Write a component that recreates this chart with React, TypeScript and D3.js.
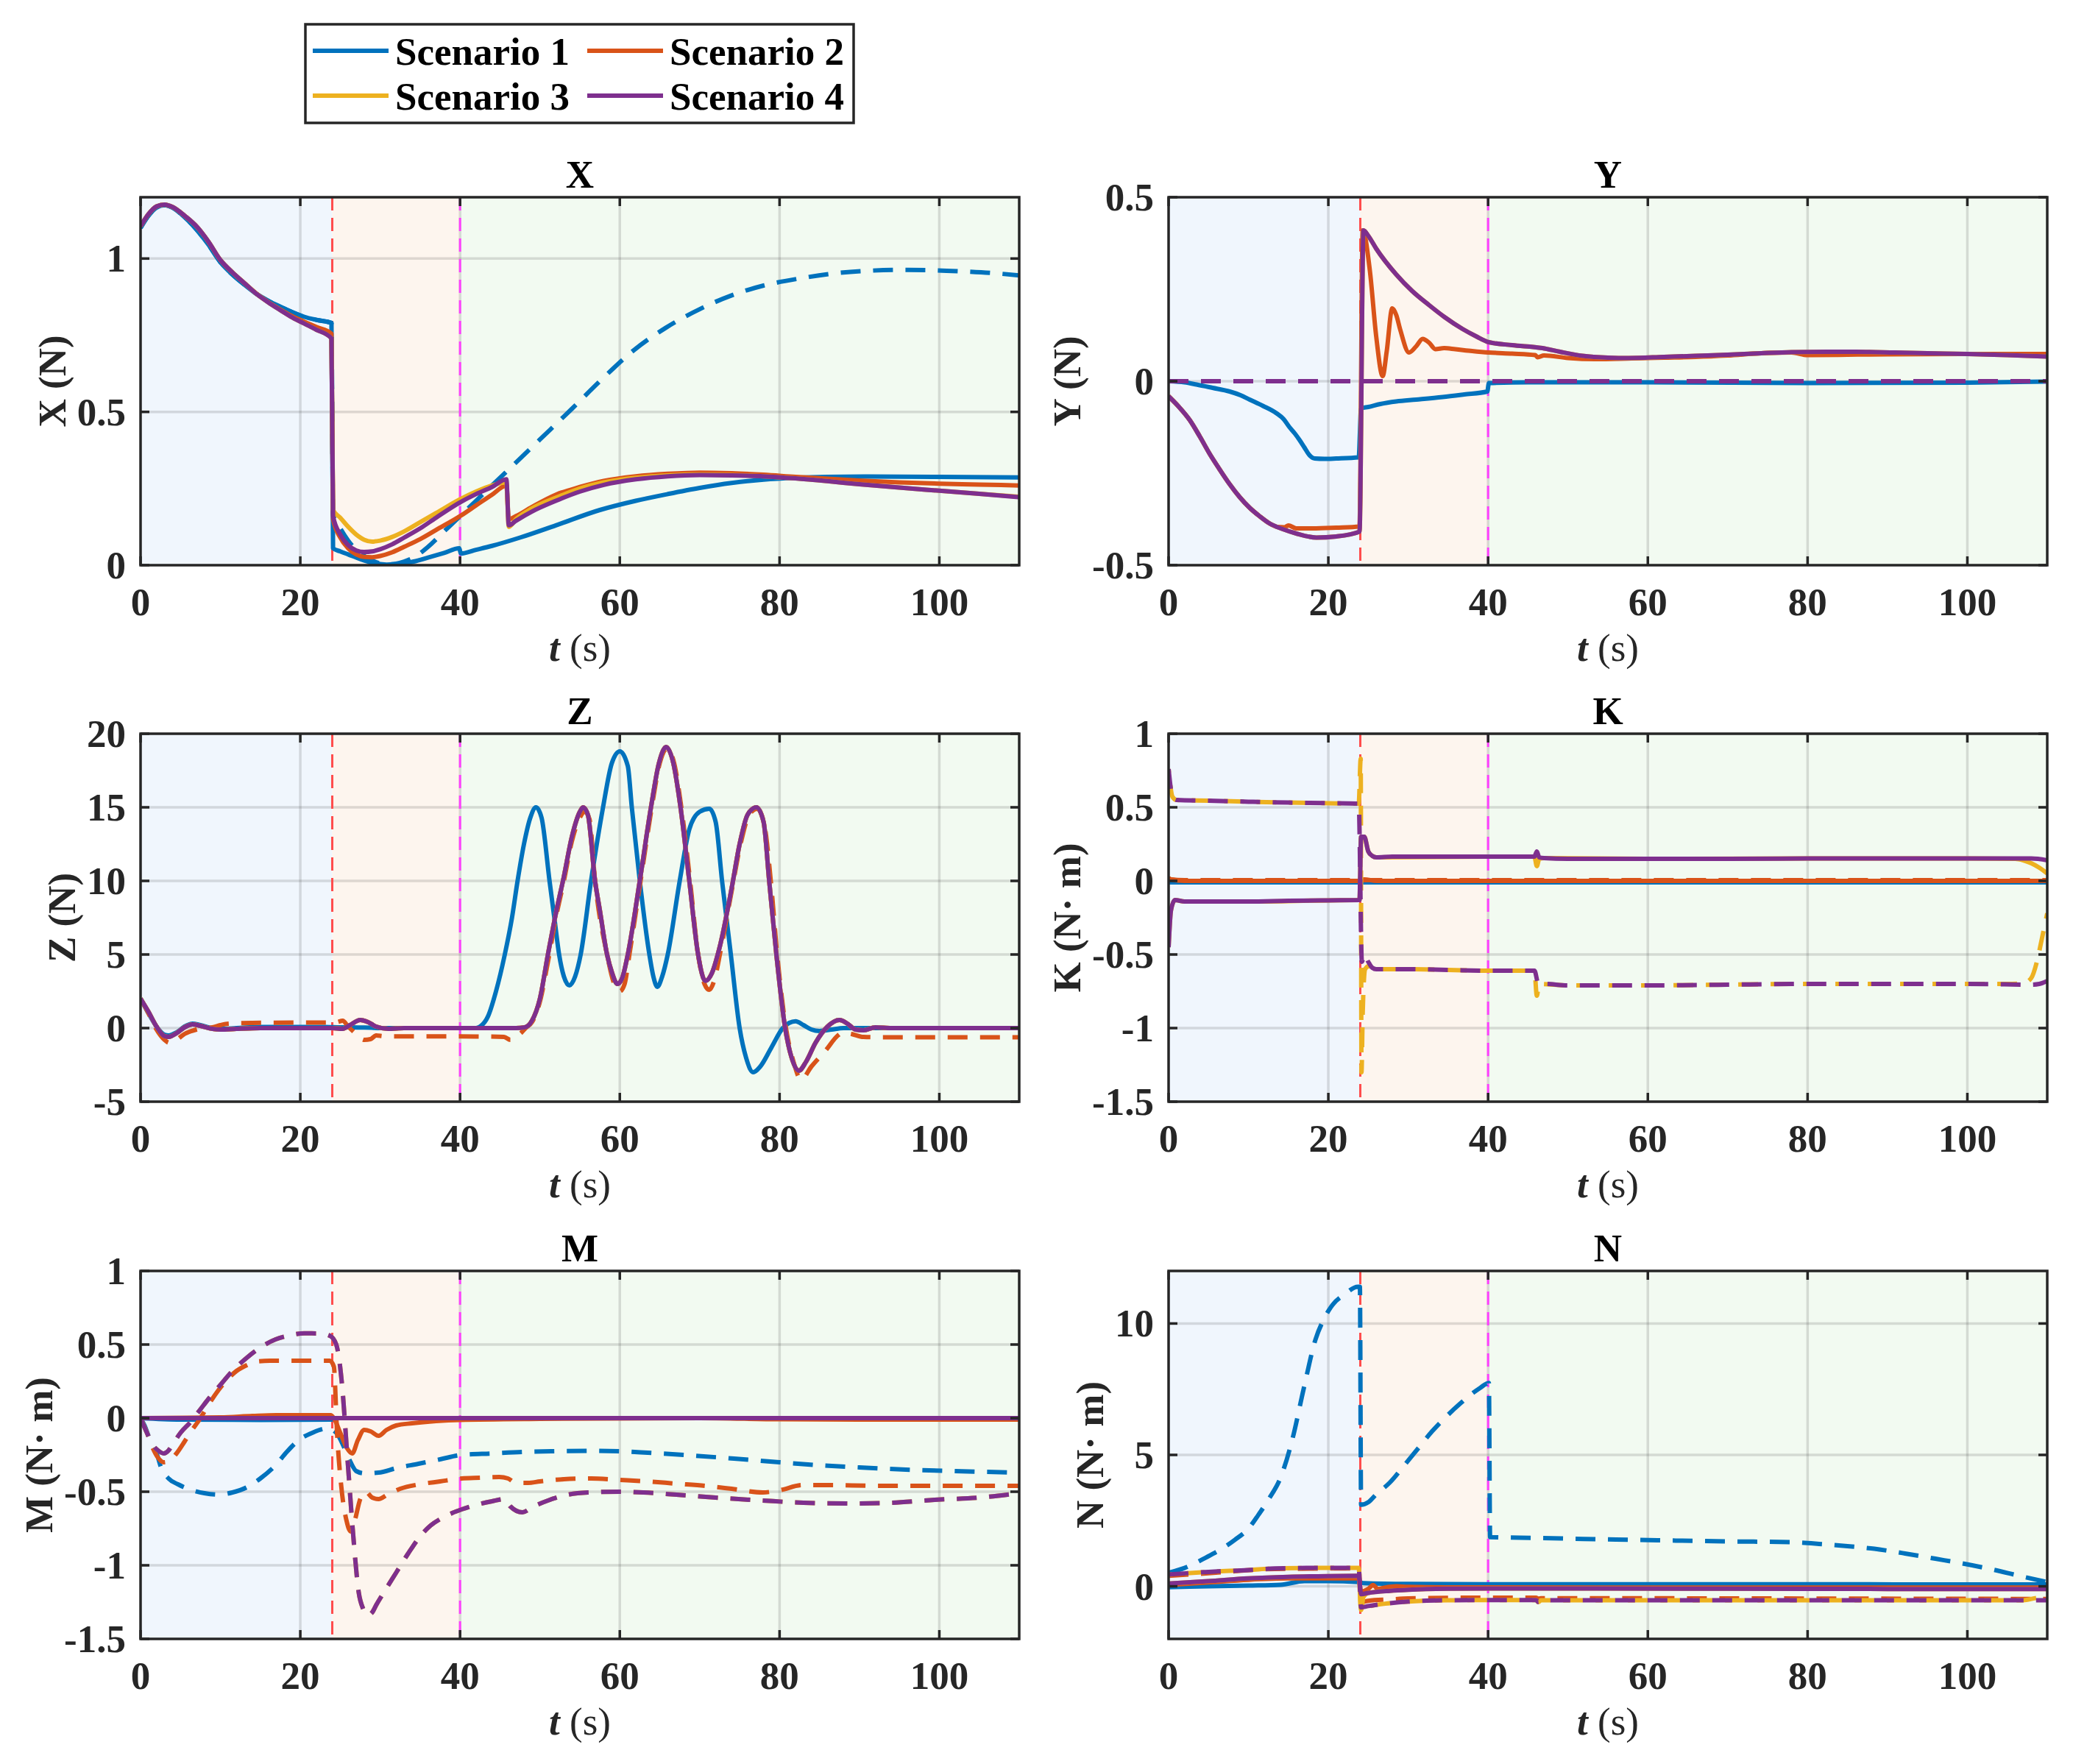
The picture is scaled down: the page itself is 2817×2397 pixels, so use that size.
import React from "react";
import * as d3 from "d3";

type Pt = [number, number];

// ---------------- data ----------------
const T_TICKS = [0, 20, 40, 60, 80, 100];
const T_DOMAIN: [number, number] = [0, 110];
const SCENARIOS = ["Scenario 1", "Scenario 2", "Scenario 3", "Scenario 4"];
const SCEN_COLORS = ["#0072BD", "#D95319", "#EDB120", "#7E2F8E"];
const PHASE_EDGES = [0, 24, 40, 110];
const PHASE_FILLS = ["#F0F6FD", "#FDF5EE", "#F2FAF1"];
const EVENT_TIMES = [24, 40];
const EVENT_COLORS = ["#FF4D4D", "#FF40FF"];

// X panel
const xPre1: Pt[] = [[0,1.1],[1,1.14],[2,1.166],[3,1.174],[4,1.166],[5.5,1.135],[7,1.095],[8.5,1.045],[10,0.988],[11.5,0.948],[13,0.915],[14.5,0.885],[16,0.862],[17.5,0.843],[19,0.825],[20.5,0.81],[22,0.8],[23.9,0.79]];
const xPre2: Pt[] = [[0,1.105],[1,1.145],[2,1.17],[3,1.176],[4,1.168],[5.5,1.14],[7,1.105],[8.5,1.055],[10,0.995],[11.5,0.955],[13,0.92],[14.5,0.886],[16,0.858],[17.5,0.834],[19,0.812],[20.5,0.794],[22,0.777],[23.9,0.755]];
const xPre4: Pt[] = [[0,1.105],[1,1.145],[2,1.17],[3,1.176],[4,1.168],[5.5,1.14],[7,1.105],[8.5,1.055],[10,0.995],[11.5,0.955],[13,0.92],[14.5,0.885],[16,0.857],[17.5,0.832],[19,0.808],[20.5,0.788],[22,0.768],[23.9,0.74]];
const xS1: Pt[] = [...xPre1,[24.1,0.055],[25,0.045],[26,0.035],[27.5,0.02],[29,0.008],[30.8,0.002],[32.5,0.004],[34.2,0.012],[36,0.025],[38,0.04],[39.9,0.055],[40.1,0.038],[42,0.05],[44,0.063],[47.5,0.09],[52,0.13],[57.5,0.18],[62,0.21],[66,0.232],[70,0.252],[74,0.268],[78,0.279],[82,0.285],[86,0.288],[91,0.289],[100,0.288],[110,0.286]];
const xD1: Pt[] = [...xPre1,[24.1,0.165],[25,0.12],[26,0.08],[27,0.05],[28,0.03],[29,0.015],[30,0.006],[31,0.003],[32,0.005],[33,0.012],[34.2,0.025],[36,0.06],[38,0.11],[40,0.16],[43,0.235],[46,0.31],[50,0.41],[54,0.51],[57.5,0.6],[61.7,0.7],[65.8,0.775],[70,0.835],[74,0.88],[78,0.912],[82.5,0.935],[87,0.952],[91,0.96],[95,0.963],[99,0.962],[103,0.958],[107,0.952],[110,0.945]];
const xS2: Pt[] = [...xPre2,[24.1,0.15],[25,0.09],[26,0.055],[27,0.035],[28,0.027],[29,0.026],[30,0.03],[31.5,0.042],[33,0.06],[35,0.085],[37,0.115],[40,0.16],[42,0.195],[44,0.23],[45.8,0.26],[46.1,0.15],[47,0.16],[49,0.19],[52,0.23],[55,0.255],[58,0.275],[62,0.29],[66,0.298],[70,0.302],[74,0.3],[78,0.295],[82,0.288],[86,0.282],[90,0.276],[95,0.27],[100,0.266],[105,0.263],[110,0.26]];
const xS3: Pt[] = [...xPre4,[24.1,0.18],[25,0.155],[26,0.125],[27,0.1],[28,0.083],[29,0.077],[30,0.08],[31.5,0.092],[33,0.11],[35,0.14],[37,0.17],[40,0.215],[42,0.24],[44,0.26],[45.8,0.27],[46.1,0.125],[47,0.15],[49,0.185],[52,0.22],[55,0.25],[58,0.27],[62,0.285],[66,0.293],[70,0.296],[74,0.294],[78,0.29],[82,0.283],[86,0.274],[90,0.264],[95,0.253],[100,0.243],[105,0.233],[110,0.223]];
const xS4: Pt[] = [...xPre4,[24.1,0.16],[25,0.1],[26,0.065],[27,0.048],[28,0.043],[29,0.045],[30,0.052],[31.5,0.068],[33,0.09],[35,0.12],[37,0.155],[40,0.205],[42,0.232],[44,0.255],[45.8,0.28],[46.1,0.13],[47,0.145],[49,0.175],[52,0.21],[55,0.24],[58,0.262],[62,0.28],[66,0.29],[70,0.294],[74,0.293],[78,0.29],[82,0.283],[86,0.274],[90,0.264],[95,0.253],[100,0.243],[105,0.233],[110,0.222]];

// Y panel
const yS1: Pt[] = [[0,0],[2,-0.003],[3.5,-0.009],[5.5,-0.018],[7.65,-0.028],[9,-0.038],[10.15,-0.05],[11.8,-0.067],[13.5,-0.087],[14.4,-0.103],[15.1,-0.124],[15.8,-0.142],[16.4,-0.16],[17,-0.18],[17.6,-0.2],[18.3,-0.21],[19.5,-0.211],[21,-0.21],[23.8,-0.207],[24.1,-0.074],[25,-0.07],[26.5,-0.062],[28.5,-0.055],[31,-0.05],[34.3,-0.043],[37,-0.036],[39.9,-0.028],[40.1,-0.005],[45,-0.003],[60,-0.003],[80,-0.005],[100,-0.004],[110,-0.001]];
const yPre4: Pt[] = [[0,-0.041],[1.3,-0.07],[2.66,-0.106],[3.9,-0.15],[5.16,-0.198],[6.4,-0.24],[7.65,-0.28],[8.9,-0.315],[10.15,-0.344],[11.4,-0.367],[12.6,-0.386]];
const yS2: Pt[] = [...yPre4,[13.6,-0.396],[14.5,-0.397],[15,-0.392],[16,-0.4],[18,-0.4],[21,-0.398],[23.9,-0.395],[24.3,0.41],[25.2,0.3],[26,0.12],[26.8,0.014],[27.3,0.08],[28,0.198],[28.5,0.18],[29,0.14],[30.1,0.078],[31,0.095],[31.8,0.115],[32.6,0.105],[33.4,0.087],[34.5,0.09],[35.9,0.087],[38,0.082],[40.1,0.078],[43,0.075],[45.9,0.071],[46.2,0.065],[47,0.07],[50,0.063],[53.4,0.06],[58,0.062],[62,0.064],[66,0.066],[70,0.07],[74.2,0.076],[78,0.078],[80,0.071],[85,0.072],[90,0.073],[100,0.074],[110,0.074]];
const yS4: Pt[] = [...yPre4,[14.3,-0.402],[16,-0.414],[18.5,-0.425],[21,-0.422],[23.9,-0.409],[24.4,0.41],[25,0.395],[26,0.36],[28.5,0.29],[30.5,0.245],[32.6,0.207],[34.5,0.175],[36.8,0.142],[38.5,0.122],[40.1,0.106],[43,0.098],[46.8,0.09],[49,0.08],[51.8,0.069],[55,0.064],[57.6,0.063],[62,0.066],[66,0.069],[70,0.072],[74.2,0.076],[78,0.079],[82.5,0.08],[86,0.08],[90.9,0.078],[95,0.076],[100,0.074],[105,0.071],[110,0.067]];
const yS3: Pt[] = yS4;
const yDashZero: Pt[] = [[0,0],[110,0]];

// Z panel
const zS1: Pt[] = [[0,2],[1,1],[2,0.1],[3,-0.45],[3.5,-0.5],[4.5,-0.3],[5.5,0.1],[6.5,0.3],[7.5,0.2],[9,0],[10,-0.05],[12,0],[15,0.08],[20,0.08],[23,0.08],[25,0.05],[28,0.04],[30,0],[42,0],[42.5,0.1],[43.5,0.8],[44.5,2.5],[45.6,5],[46.5,7.5],[47.2,10],[48,12.5],[48.8,14.3],[49.5,15],[50.2,14.3],[51.2,10],[51.8,7.5],[52.4,5],[53,3.5],[53.7,2.9],[54.4,3.5],[55.1,5],[56.4,10],[57.9,15],[59,18],[60,18.8],[61,17.8],[61.5,15],[62.5,10],[63.7,5],[64.2,3.5],[64.7,2.8],[65.3,3.5],[66,5],[67.5,10],[68.7,13.5],[70,14.7],[71.2,14.9],[72,14],[72.8,10],[73.9,5],[75,0],[75.8,-2],[76.7,-3],[77.6,-2.6],[79,-1.3],[80.4,0],[81.2,0.35],[82,0.46],[83,0.2],[84,-0.1],[85,-0.2],[86.5,-0.1],[88,0],[110,0]];
const zS4: Pt[] = [[0,2],[1,1.1],[2,0.1],[3,-0.55],[3.5,-0.6],[4.5,-0.35],[5.5,0.05],[6.5,0.25],[7.5,0.15],[9,-0.05],[10,-0.1],[12,-0.05],[15,0],[24,0],[25.3,-0.05],[26.2,0.2],[27.5,0.55],[28.5,0.4],[29.5,0.1],[31,-0.05],[33,0],[47,0],[48.1,0.05],[49,0.5],[50,2],[51,5],[52,7.8],[53,10.3],[54,13],[55,14.7],[55.4,15],[56,14.5],[56.9,10],[57.5,8],[58.4,5],[59,3.8],[59.7,3],[60.3,3.4],[61,5],[62.5,10],[63.9,15],[64.9,18],[65.8,19.1],[66.7,18],[67.6,15],[68.7,10],[69.8,5],[70.7,3.2],[71.5,3.7],[72.5,5.5],[74,9.5],[75,12.5],[76,14.5],[77.1,15],[78,14],[78.7,10],[79.6,5],[80.7,0],[81.5,-2],[82.4,-2.9],[83.3,-2.3],[84.5,-1],[86,0.1],[87.5,0.55],[88.5,0.3],[89.5,-0.1],[90.5,-0.15],[92,0.05],[94,0],[110,0]];
const zS2: Pt[] = zS4;
const zS3: Pt[] = zS4;
const zD2: Pt[] = [[0,2],[1,1],[2,-0.1],[3,-0.8],[3.6,-1],[4.5,-0.8],[5.5,-0.4],[7,-0.1],[8,0],[9,0.05],[10,0.2],[11,0.3],[14,0.35],[20,0.37],[23.5,0.37],[24.5,0.4],[25.3,0.5],[26,0.1],[27,-0.4],[28,-0.8],[28.8,-0.75],[29.5,-0.5],[30.5,-0.55],[33,-0.56],[38,-0.56],[42,-0.57],[45.5,-0.6],[46.3,-0.8],[46.8,-0.6],[47.5,-0.4],[48.2,0],[49,0.4],[50,1.8],[51,4.5],[52,7.5],[53,10],[54,12.7],[55,14.3],[55.6,14.7],[56.2,14.2],[56.9,10],[58.4,5],[59.3,3],[60,2.5],[60.6,3],[61.2,5],[62.6,10],[64,15],[65,18],[65.9,19],[66.8,18],[67.7,15],[68.8,10],[69.8,5],[70.6,3],[71.2,2.6],[71.8,3.2],[72.6,5.2],[74,9.3],[75.2,12.7],[76.2,14.5],[77.2,14.9],[78.1,13.8],[78.9,10],[79.7,5],[80.8,0],[81.7,-2.2],[82.7,-3.5],[84,-2.6],[85.8,-1.5],[87.3,-0.5],[87.9,-0.3],[89,-0.4],[90.5,-0.6],[92,-0.62],[110,-0.62]];

// K panel
const kS1: Pt[] = [[0,-0.01],[110,-0.01]];
const kS2: Pt[] = [[0,0.02],[0.3,0.01],[2,0],[24,0],[24.5,0.01],[26,0],[110,0]];
const kD2: Pt[] = [[0,0.02],[0.3,0.01],[2,0.005],[24,0.005],[110,0.005]];
const kS4: Pt[] = [[0,-0.45],[0.3,-0.2],[0.8,-0.13],[2,-0.14],[5,-0.14],[10,-0.14],[15,-0.135],[20,-0.132],[23.9,-0.13],[24.1,0.3],[24.5,0.3],[25,0.2],[25.5,0.17],[26,0.16],[28,0.165],[35,0.165],[40,0.165],[45.8,0.165],[46.1,0.2],[46.4,0.16],[47,0.155],[50,0.15],[60,0.15],[70,0.15],[80,0.152],[90,0.153],[100,0.152],[108,0.152],[110,0.14]];
const kS3: Pt[] = [[0,-0.45],[0.3,-0.2],[0.8,-0.13],[2,-0.14],[10,-0.14],[20,-0.132],[23.9,-0.13],[24.1,0.3],[24.5,0.3],[25,0.2],[25.5,0.17],[26,0.16],[40,0.165],[45.8,0.165],[46.1,0.1],[46.4,0.15],[47,0.155],[60,0.15],[80,0.152],[100,0.152],[106,0.15],[107,0.14],[108,0.12],[109,0.09],[110,0.05]];
const kD4: Pt[] = [[0,0.76],[0.5,0.57],[1,0.55],[5,0.545],[10,0.538],[15,0.532],[20,0.528],[23.8,0.525],[24.2,-0.55],[24.5,-0.5],[25,-0.55],[25.5,-0.59],[26,-0.6],[30,-0.6],[35,-0.605],[40,-0.61],[45.8,-0.61],[46.3,-0.7],[47,-0.7],[50,-0.71],[60,-0.71],[70,-0.705],[80,-0.7],[90,-0.7],[100,-0.7],[108,-0.705],[109,-0.7],[110,-0.68]];
const kD3: Pt[] = [[0,0.76],[0.5,0.57],[1,0.55],[5,0.545],[10,0.538],[15,0.532],[20,0.528],[23.8,0.525],[24.05,0.83],[24.15,-1.3],[24.3,-0.9],[24.6,-0.6],[25,-0.58],[26,-0.6],[30,-0.6],[35,-0.605],[40,-0.61],[45.8,-0.61],[46.1,-0.78],[46.4,-0.7],[50,-0.71],[60,-0.71],[70,-0.705],[80,-0.7],[90,-0.7],[100,-0.7],[105,-0.7],[107,-0.695],[108,-0.66],[108.7,-0.55],[109.3,-0.4],[110,-0.22]];

// M panel
const mS1: Pt[] = [[0,0],[5,-0.01],[15,-0.012],[23.9,-0.01],[24.5,0],[110,0]];
const mS2: Pt[] = [[0,0],[10,0.005],[14,0.015],[17,0.02],[23.8,0.02],[24.2,0],[25,-0.1],[25.8,-0.2],[26.5,-0.24],[27.2,-0.15],[28,-0.08],[28.8,-0.09],[29.8,-0.12],[30.8,-0.08],[32,-0.05],[34,-0.035],[37,-0.02],[40,-0.012],[50,-0.005],[70,0],[80,-0.008],[90,-0.01],[110,-0.01]];
const mS4: Pt[] = [[0,0],[110,0]];
const mD1: Pt[] = [[0,0],[0.5,-0.05],[1.2,-0.15],[1.9,-0.22],[2.6,-0.34],[3.5,-0.41],[4.7,-0.45],[6.5,-0.49],[8,-0.51],[9.75,-0.52],[11.5,-0.505],[13.3,-0.47],[15,-0.41],[16.9,-0.32],[18.3,-0.23],[19.8,-0.15],[21.5,-0.1],[23.4,-0.07],[24.5,-0.1],[25.5,-0.2],[26.3,-0.3],[27,-0.36],[28,-0.375],[29.8,-0.37],[32,-0.34],[34.8,-0.31],[37.5,-0.28],[40.2,-0.25],[44,-0.24],[47.8,-0.23],[52,-0.225],[56.4,-0.222],[60,-0.225],[63.5,-0.235],[68,-0.25],[74.3,-0.275],[80,-0.3],[85,-0.32],[90,-0.335],[95.8,-0.35],[102,-0.36],[110,-0.37]];
const mD2: Pt[] = [[0,0],[0.8,-0.1],[1.5,-0.2],[2.2,-0.27],[2.9,-0.3],[3.6,-0.29],[4.5,-0.24],[5.5,-0.16],[6.2,-0.1],[7.5,0],[8.5,0.09],[9.75,0.19],[11,0.27],[12,0.32],[13.3,0.36],[14.5,0.385],[16.2,0.39],[20,0.39],[23.7,0.39],[24.2,0.35],[24.6,-0.1],[25.2,-0.5],[25.8,-0.7],[26.3,-0.77],[26.8,-0.7],[27.5,-0.55],[28.2,-0.5],[29,-0.54],[29.8,-0.55],[30.9,-0.52],[32.5,-0.48],[34.9,-0.45],[37.5,-0.43],[40.2,-0.41],[42.5,-0.405],[44.9,-0.4],[46,-0.41],[47,-0.44],[48.5,-0.44],[50,-0.43],[53,-0.415],[56.4,-0.41],[60,-0.42],[63.5,-0.43],[67,-0.445],[70.7,-0.46],[74,-0.48],[77.9,-0.505],[80,-0.49],[82.9,-0.455],[86,-0.455],[92.2,-0.46],[100,-0.46],[110,-0.46]];
const mD4: Pt[] = [[0,0],[0.8,-0.1],[1.5,-0.18],[2.2,-0.22],[2.9,-0.24],[3.5,-0.22],[4,-0.18],[5,-0.1],[6.2,-0.03],[7.5,0.06],[8.5,0.13],[9.75,0.21],[11.5,0.32],[13.3,0.41],[15,0.48],[16.9,0.535],[18.5,0.56],[20.5,0.576],[22.5,0.575],[23.7,0.56],[24.5,0.5],[25.2,0.24],[25.9,-0.27],[26.6,-0.78],[27.3,-1.18],[27.9,-1.3],[28.4,-1.34],[29,-1.32],[29.5,-1.27],[30.5,-1.18],[32,-1.05],[33.5,-0.92],[34.9,-0.81],[36.3,-0.73],[37.7,-0.68],[39,-0.645],[40.2,-0.62],[42,-0.59],[44,-0.565],[45.6,-0.55],[46.3,-0.6],[47.8,-0.64],[49.2,-0.6],[51,-0.56],[53.5,-0.52],[56,-0.505],[60,-0.5],[63,-0.505],[67.1,-0.52],[72,-0.54],[77.9,-0.56],[83,-0.575],[88.6,-0.58],[94,-0.575],[99.4,-0.555],[105,-0.54],[110,-0.51]];
const mD3: Pt[] = mD4;

// N panel
const nS1: Pt[] = [[0,-0.03],[5,0],[10,0.03],[14,0.06],[17,0.2],[20,0.2],[23.8,0.16],[24.5,0.12],[30,0.09],[40,0.08],[60,0.08],[110,0.07]];
const nS2: Pt[] = [[0,0.05],[5,0.15],[10,0.25],[15,0.3],[20,0.3],[23.8,0.3],[24.1,-0.2],[25,-0.1],[25.6,0.05],[26.2,-0.1],[27,-0.05],[28.5,0],[30,-0.02],[35,-0.04],[40,-0.04],[60,-0.05],[110,-0.05]];
const nS4: Pt[] = [[0,0.11],[5,0.2],[10,0.3],[15,0.36],[20,0.39],[23.8,0.4],[24.1,-0.3],[25,-0.25],[27.7,-0.17],[30,-0.13],[34.9,-0.09],[40,-0.08],[50,-0.08],[70,-0.09],[90,-0.1],[110,-0.1]];
const nS3: Pt[] = [[0,0.11],[5,0.2],[10,0.3],[15,0.36],[20,0.39],[23.8,0.4],[24.1,-0.9],[24.4,-0.4],[25,-0.25],[27.7,-0.17],[30,-0.13],[34.9,-0.09],[40,-0.08],[50,-0.08],[70,-0.09],[90,-0.1],[110,-0.1]];
const nD1: Pt[] = [[0,0.52],[2,0.7],[4.7,1.1],[6.5,1.4],[8.3,1.77],[10,2.2],[11.2,2.7],[12.5,3.3],[14.1,4.2],[15.5,5.6],[16.9,7.5],[18.4,9.4],[19.5,10.2],[20.5,10.7],[22,11.1],[23.7,11.4],[23.95,11.4],[24.1,3.1],[25,3.2],[26,3.5],[27.7,3.95],[29.5,4.6],[31.3,5.27],[33,5.9],[34.9,6.5],[36.5,6.95],[37.7,7.26],[39,7.55],[40.1,7.74],[40.25,1.87],[44,1.85],[49.2,1.82],[56,1.78],[63.5,1.74],[70,1.71],[77.9,1.68],[82,1.6],[85,1.53],[89,1.4],[92.2,1.25],[96,1.05],[99.4,0.87],[103,0.65],[106.5,0.4],[110,0.16]];
const nD2: Pt[] = [[0,0.4],[5,0.5],[13.3,0.66],[23.8,0.68],[24.1,-0.6],[25,-0.55],[27.7,-0.5],[30,-0.46],[34.9,-0.44],[40,-0.43],[46,-0.43],[46.3,-0.47],[46.6,-0.45],[70,-0.46],[110,-0.48]];
const nD4: Pt[] = [[0,0.45],[5,0.55],[10,0.62],[13.3,0.68],[18,0.7],[23.8,0.7],[24.1,-0.8],[25,-0.75],[27.7,-0.64],[30,-0.58],[34.9,-0.53],[40,-0.52],[46,-0.52],[46.3,-0.6],[46.6,-0.53],[60,-0.53],[110,-0.53]];
const nD3: Pt[] = [[0,0.45],[5,0.55],[10,0.62],[13.3,0.68],[18,0.7],[23.8,0.7],[24.1,-0.9],[25,-0.78],[27.7,-0.64],[30,-0.58],[34.9,-0.53],[40,-0.52],[46,-0.52],[46.3,-0.6],[46.6,-0.53],[60,-0.53],[107,-0.53],[108.5,-0.45],[110,-0.4]];

// ---------------- panels ----------------
type Panel = {
  title: string;
  yLabel: string;
  yDomain: [number, number];
  yTicks: number[];
  solid: (Pt[] | null)[];
  dashed: (Pt[] | null)[];
  yellowDashShift: number;
};

const PANELS: Panel[] = [
  { title: "X", yLabel: "X (N)", yDomain: [0, 1.2], yTicks: [0, 0.5, 1], solid: [xS1, xS2, xS3, xS4], dashed: [xD1, null, null, null], yellowDashShift: 0 },
  { title: "Y", yLabel: "Y (N)", yDomain: [-0.5, 0.5], yTicks: [-0.5, 0, 0.5], solid: [yS1, yS2, yS3, yS4], dashed: [yDashZero, yDashZero, yDashZero, yDashZero], yellowDashShift: 0 },
  { title: "Z", yLabel: "Z (N)", yDomain: [-5, 20], yTicks: [-5, 0, 5, 10, 15, 20], solid: [zS1, zS2, zS3, zS4], dashed: [null, zD2, null, null], yellowDashShift: 0 },
  { title: "K", yLabel: "K (N\u00b7 m)", yDomain: [-1.5, 1], yTicks: [-1.5, -1, -0.5, 0, 0.5, 1], solid: [kS1, kS2, kS3, kS4], dashed: [null, kD2, kD3, kD4], yellowDashShift: 22 },
  { title: "M", yLabel: "M (N\u00b7 m)", yDomain: [-1.5, 1], yTicks: [-1.5, -1, -0.5, 0, 0.5, 1], solid: [mS1, mS2, mS4, mS4], dashed: [mD1, mD2, mD3, mD4], yellowDashShift: 0 },
  { title: "N", yLabel: "N (N\u00b7 m)", yDomain: [-2, 12], yTicks: [0, 5, 10], solid: [nS1, nS2, nS3, nS4], dashed: [nD1, nD2, nD3, nD4], yellowDashShift: 22 },
];

// ---------------- layout ----------------
const W = 2817;
const H = 2397;
const COL_LEFT = [191, 1588];
const ROW_TOP = [268, 997, 1727];
const PW = 1194;
const PH = 500;
const FONT = "'Liberation Serif', 'Times New Roman', serif";
const FS = 53;
const AX = "#262626";
const LW = 6;

const charW: Record<string, number> = { "-": 0.333, ".": 0.25 };
const labelWidth = (s: string) => s.split("").reduce((a, c) => a + (charW[c] ?? 0.5), 0) * FS;

function PanelView({ p, idx }: { p: Panel; idx: number }) {
  const left = COL_LEFT[idx % 2];
  const top = ROW_TOP[Math.floor(idx / 2)];
  const x = d3.scaleLinear().domain(T_DOMAIN).range([left, left + PW]);
  const y = d3.scaleLinear().domain(p.yDomain).range([top + PH, top]);
  const line = d3
    .line<Pt>()
    .x((d) => x(d[0]))
    .y((d) => y(d[1]))
    .curve(d3.curveMonotoneX);
  const clipId = `clip${idx}`;
  const maxTickW = Math.max(...p.yTicks.map((t) => labelWidth(String(t))));
  const yLabelX = left - 20 - maxTickW - 16;
  const cx = left + PW / 2;
  const tick = 12;

  const layers: React.ReactNode[] = [];
  for (let s = 0; s < 4; s++) {
    const sd = p.solid[s];
    if (sd) {
      layers.push(
        <path key={`s${s}`} d={line(sd) ?? ""} fill="none" stroke={SCEN_COLORS[s]} strokeWidth={LW} strokeLinejoin="round" />
      );
    }
    const dd = p.dashed[s];
    if (dd) {
      layers.push(
        <path
          key={`d${s}`}
          d={line(dd) ?? ""}
          fill="none"
          stroke={SCEN_COLORS[s]}
          strokeWidth={LW}
          strokeDasharray="27 17"
          strokeDashoffset={s === 2 ? p.yellowDashShift : 0}
        />
      );
    }
  }

  return (
    <g>
      <defs>
        <clipPath id={clipId}>
          <rect x={left} y={top} width={PW} height={PH} />
        </clipPath>
      </defs>
      {PHASE_FILLS.map((f, i) => (
        <rect key={i} x={x(PHASE_EDGES[i])} y={top} width={x(PHASE_EDGES[i + 1]) - x(PHASE_EDGES[i])} height={PH} fill={f} />
      ))}
      {T_TICKS.filter((t) => t > 0).map((t) => (
        <line key={`gx${t}`} x1={x(t)} x2={x(t)} y1={top} y2={top + PH} stroke={AX} strokeOpacity={0.15} strokeWidth={3.5} />
      ))}
      {p.yTicks.filter((t) => t > p.yDomain[0] && t < p.yDomain[1]).map((t) => (
        <line key={`gy${t}`} x1={left} x2={left + PW} y1={y(t)} y2={y(t)} stroke={AX} strokeOpacity={0.15} strokeWidth={3.5} />
      ))}
      {EVENT_TIMES.map((t, i) => (
        <line key={`ev${t}`} x1={x(t)} x2={x(t)} y1={top} y2={top + PH} stroke={EVENT_COLORS[i]} strokeWidth={3} strokeDasharray="18 10" />
      ))}
      <g clipPath={`url(#${clipId})`}>{layers}</g>
      {T_TICKS.map((t) => (
        <g key={`tx${t}`}>
          <line x1={x(t)} x2={x(t)} y1={top + PH} y2={top + PH - tick} stroke={AX} strokeWidth={3.5} />
          <line x1={x(t)} x2={x(t)} y1={top} y2={top + tick} stroke={AX} strokeWidth={3.5} />
          <text x={x(t)} y={top + PH + 68} textAnchor="middle" fontFamily={FONT} fontWeight="bold" fontSize={FS} fill={AX}>
            {t}
          </text>
        </g>
      ))}
      {p.yTicks.map((t) => (
        <g key={`ty${t}`}>
          <line x1={left} x2={left + tick} y1={y(t)} y2={y(t)} stroke={AX} strokeWidth={3.5} />
          <line x1={left + PW} x2={left + PW - tick} y1={y(t)} y2={y(t)} stroke={AX} strokeWidth={3.5} />
          <text x={left - 20} y={y(t) + 18} textAnchor="end" fontFamily={FONT} fontWeight="bold" fontSize={FS} fill={AX}>
            {String(t)}
          </text>
        </g>
      ))}
      <rect x={left} y={top} width={PW} height={PH} fill="none" stroke={AX} strokeWidth={3.5} />
      <text x={cx} y={top - 13} textAnchor="middle" fontFamily={FONT} fontWeight="bold" fontSize={FS} fill="#000">
        {p.title}
      </text>
      <text x={cx} y={top + PH + 130} textAnchor="middle" fontFamily={FONT} fontSize={FS} fill={AX}>
        <tspan fontWeight="bold" fontStyle="italic">t</tspan>
        <tspan> (s)</tspan>
      </text>
      <text
        transform={`translate(${yLabelX},${top + PH / 2}) rotate(-90)`}
        textAnchor="middle"
        fontFamily={FONT}
        fontWeight="bold"
        fontSize={FS}
        fill={AX}
      >
        {p.yLabel}
      </text>
    </g>
  );
}

function Legend() {
  const bx = 415;
  const by = 33;
  const bw = 745;
  const bh = 134;
  const cols = [425, 798];
  const rows = [69, 130];
  return (
    <g>
      <rect x={bx} y={by} width={bw} height={bh} fill="#fff" stroke={AX} strokeWidth={3.5} />
      {SCENARIOS.map((name, i) => {
        const lx = cols[i % 2];
        const ly = rows[Math.floor(i / 2)];
        return (
          <g key={name}>
            <line x1={lx} x2={lx + 103} y1={ly} y2={ly} stroke={SCEN_COLORS[i]} strokeWidth={LW} />
            <text x={lx + 112} y={ly + 19} fontFamily={FONT} fontWeight="bold" fontSize={FS} fill="#000">
              {name}
            </text>
          </g>
        );
      })}
    </g>
  );
}

export default function App() {
  return (
    <svg
      width={W}
      height={H}
      viewBox={`0 0 ${W} ${H}`}
      style={{ position: "absolute", left: 0, top: 0, background: "#fff", display: "block" }}
    >
      <rect x={0} y={0} width={W} height={H} fill="#fff" />
      {PANELS.map((p, i) => (
        <PanelView key={p.title} p={p} idx={i} />
      ))}
      <Legend />
    </svg>
  );
}
